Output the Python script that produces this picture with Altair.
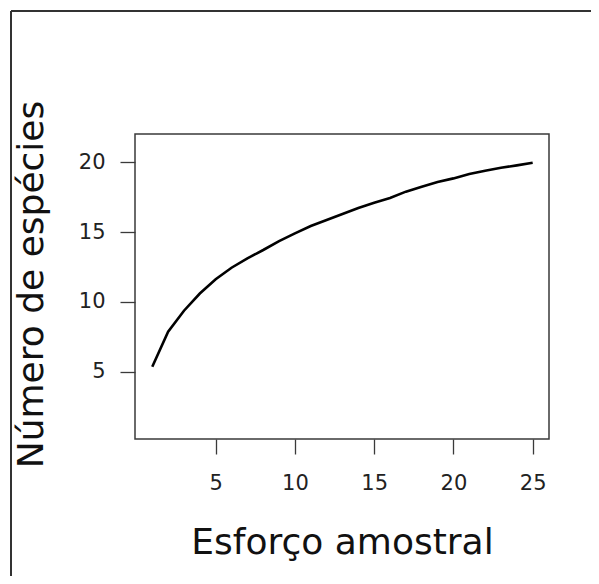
import altair as alt
import pandas as pd

esforco = list(range(1, 26))
especies = [5.36, 7.87, 9.37, 10.6, 11.62, 12.45, 13.12, 13.72, 14.36, 14.91,
            15.44, 15.87, 16.3, 16.73, 17.11, 17.44, 17.9, 18.25, 18.59, 18.85,
            19.16, 19.4, 19.61, 19.78, 19.97]
x_ticks = [5, 10, 15, 20, 25]
y_ticks = [5, 10, 15, 20]

df = pd.DataFrame({"esforco": esforco, "especies": especies})

FONT = "DejaVu Sans"
AXC = "#3a3a3a"

line = alt.Chart(df).mark_line(color="black", strokeWidth=2.6, clip=False).encode(
    x=alt.X("esforco:Q",
            scale=alt.Scale(domain=[-0.09, 26.03], nice=False, zero=False),
            axis=alt.Axis(values=x_ticks, title="Esforço amostral", grid=False,
                          domain=False, tickSize=15, tickColor=AXC, tickWidth=1.3,
                          labelFontSize=21, labelFont=FONT, labelColor="#222",
                          labelPadding=18, labelFlush=False,
                          titleFont=FONT, titleFontSize=36, titleFontWeight="normal",
                          titleColor="#111", titleBaseline="alphabetic", titleY=114)),
    y=alt.Y("especies:Q",
            scale=alt.Scale(domain=[0.18, 22.03], nice=False, zero=False),
            axis=alt.Axis(values=y_ticks, title="Número de espécies", grid=False,
                          domain=False, tickSize=15, tickColor=AXC, tickWidth=1.3,
                          labelFontSize=21, labelFont=FONT, labelColor="#222",
                          labelPadding=15, labelFlush=False, labelAngle=0,
                          titleFont=FONT, titleFontSize=36, titleFontWeight="normal",
                          titleColor="#111", titleBaseline="alphabetic",
                          titleX=-93, titleY=150, titleAngle=-90)),
)

frame_top = alt.Chart(df).mark_rule(color="#333", strokeWidth=1.5, clip=False).encode(
    x=alt.value(-124), x2=alt.value(470), y=alt.value(-123))
frame_left = alt.Chart(df).mark_rule(color="#333", strokeWidth=1.5, clip=False).encode(
    x=alt.value(-124), y=alt.value(-123), y2=alt.value(460))

chart = alt.layer(frame_top, frame_left, line).properties(
    width=414, height=305,
    autosize=alt.AutoSizeParams(type="none"),
    padding={"left": 127, "top": 126, "right": 42, "bottom": 137},
    background="white",
).configure_view(stroke=AXC, strokeWidth=1.5)

chart.save("out.html", embed_options={"renderer": "svg", "actions": False})
